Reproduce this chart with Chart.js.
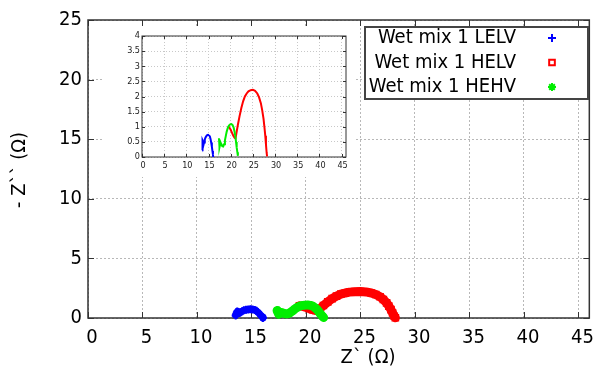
<!DOCTYPE html>
<html>
<head>
<meta charset="utf-8">
<script src="https://cdn.jsdelivr.net/npm/chart.js@4.4.0/dist/chart.umd.min.js"></script>
<style>
  body { margin: 0; background: #fff; }
  #wrap { position: relative; width: 598px; height: 372px; }
  #main { position: absolute; left: 0; top: 0; }
  #inset { position: absolute; left: 103px; top: 28px; background: #fff; }
</style>
</head>
<body>
<div id="wrap">
  <canvas id="main" width="598" height="372"></canvas>
  <canvas id="inset" width="252" height="149"></canvas>
</div>
<script>
// Nyquist data, Z' and -Z'' in ohms
var lelvRe = [13.55, 13.6, 13.65, 13.7, 13.8, 13.9, 14.0, 14.15, 14.3, 14.5, 14.7, 14.9, 15.1, 15.3, 15.45, 15.6, 15.75, 15.88, 16.0, 16.05];
var lelvIm = [0.22, 0.32, 0.45, 0.55, 0.5, 0.42, 0.48, 0.57, 0.64, 0.69, 0.72, 0.73, 0.72, 0.68, 0.6, 0.48, 0.34, 0.2, 0.08, 0.0];

var helvRe = [19.4, 19.7, 20.0, 20.3, 20.6, 20.9, 21.1, 21.3, 21.6, 22.0, 22.4, 22.8, 23.2, 23.6, 24.0, 24.5, 25.0, 25.5, 26.0, 26.4, 26.8, 27.1, 27.4, 27.6, 27.8, 27.95, 28.1, 28.2];
var helvIm = [1.02, 0.97, 0.9, 0.8, 0.7, 0.63, 0.62, 0.8, 1.05, 1.35, 1.62, 1.84, 2.0, 2.1, 2.17, 2.21, 2.22, 2.19, 2.1, 1.97, 1.78, 1.55, 1.27, 1.0, 0.7, 0.42, 0.15, 0.02];

var hehvRe = [17.35, 17.4, 17.45, 17.5, 17.6, 17.75, 17.9, 18.1, 18.3, 18.5, 18.7, 18.9, 19.1, 19.35, 19.6, 19.9, 20.15, 20.4, 20.65, 20.85, 21.05, 21.2, 21.35, 21.5, 21.62];
var hehvIm = [0.62, 0.52, 0.42, 0.32, 0.4, 0.47, 0.42, 0.36, 0.35, 0.42, 0.55, 0.7, 0.84, 0.96, 1.04, 1.08, 1.09, 1.06, 0.98, 0.85, 0.68, 0.5, 0.32, 0.16, 0.04];

var seriesNames = ['Wet mix 1 LELV', 'Wet mix 1 HELV', 'Wet mix 1 HEHV'];
var seriesColors = ['#0000ff', '#ff0000', '#00ee00'];
var seriesMarkers = ['cross', 'rect', 'star'];

var xTicks = [0, 5, 10, 15, 20, 25, 30, 35, 40, 45];
var yTicks = [0, 5, 10, 15, 20, 25];
var insetYTicks = [0, 0.5, 1, 1.5, 2, 2.5, 3, 3.5, 4];

var FONT = "'DejaVu Sans Condensed', 'Liberation Sans Narrow', 'DejaVu Sans', sans-serif";

function toPoints(re, im) {
  return re.map(function (v, i) { return { x: v, y: im[i] }; });
}
var allRe = [lelvRe, helvRe, hehvRe];
var allIm = [lelvIm, helvIm, hehvIm];

function setTicks(list) {
  return function (scale) { scale.ticks = list.map(function (v) { return { value: v }; }); };
}

// box round the plot plus short inward ticks on all four sides
function framePlugin(tickLen, color) {
  return {
    id: 'frame',
    beforeDatasetsDraw: function (chart) {
      var ctx = chart.ctx, a = chart.chartArea;
      var sx = chart.scales.x, sy = chart.scales.y;
      ctx.save();
      ctx.strokeStyle = color;
      ctx.lineWidth = 1;
      ctx.beginPath();
      sx.ticks.forEach(function (t) {
        var px = Math.round(sx.getPixelForValue(t.value)) + 0.5;
        ctx.moveTo(px, a.bottom); ctx.lineTo(px, a.bottom - tickLen);
        ctx.moveTo(px, a.top); ctx.lineTo(px, a.top + tickLen);
      });
      sy.ticks.forEach(function (t) {
        var py = Math.round(sy.getPixelForValue(t.value)) + 0.5;
        ctx.moveTo(a.left, py); ctx.lineTo(a.left + tickLen, py);
        ctx.moveTo(a.right, py); ctx.lineTo(a.right - tickLen, py);
      });
      ctx.stroke();
      ctx.lineWidth = chart.canvas.id === 'main' ? 1.5 : 1;
      ctx.strokeRect(a.left, a.top, a.right - a.left, a.bottom - a.top);
      ctx.restore();
    }
  };
}

var mainExtras = {
  id: 'mainExtras',
  afterDraw: function (chart) {
    var ctx = chart.ctx;
    ctx.save();
    ctx.fillStyle = '#000';
    ctx.font = '20px ' + FONT;
    ctx.textAlign = 'center';
    ctx.textBaseline = 'middle';
    ctx.fillText('Z` (\u03A9)', 368, 358);
    ctx.translate(20, 170);
    ctx.rotate(-Math.PI / 2);
    ctx.fillText('- Z`` (\u03A9)', 0, 0);
    ctx.restore();

    // legend box, labels right aligned, marker on the right
    ctx.save();
    ctx.fillStyle = '#fff';
    ctx.fillRect(365, 27, 223, 72);
    ctx.strokeStyle = '#444';
    ctx.lineWidth = 2;
    ctx.strokeRect(365, 27, 223, 72);
    var rows = [38, 62.5, 87];
    chart.data.datasets.forEach(function (ds, i) {
      ctx.fillStyle = '#000';
      ctx.font = '20px ' + FONT;
      ctx.textAlign = 'right';
      ctx.textBaseline = 'middle';
      ctx.fillText(ds.label, 516, rows[i]);
      ctx.strokeStyle = ds.borderColor;
      ctx.fillStyle = '#fff';
      Chart.helpers.drawPoint(ctx, { pointStyle: ds.pointStyle, radius: 4, rotation: 0, borderWidth: 1.5 }, 552, rows[i]);
    });
    ctx.restore();
  }
};

var mainSets = [0, 1, 2].map(function (i) {
  return {
    label: seriesNames[i],
    data: toPoints(allRe[i], allIm[i]),
    showLine: true,
    borderColor: seriesColors[i],
    backgroundColor: seriesColors[i],
    borderWidth: i === 0 ? 7 : 9,
    borderCapStyle: 'round',
    borderJoinStyle: 'round',
    pointStyle: seriesMarkers[i],
    pointRadius: 4,
    pointBorderWidth: 2,
    clip: 8,
    order: [2, 3, 1][i]
  };
});

new Chart(document.getElementById('main'), {
  type: 'scatter',
  data: { datasets: mainSets },
  options: {
    responsive: false,
    animation: false,
    layout: { padding: { top: 20, right: 4, left: 0, bottom: 0 } },
    plugins: { legend: { display: false }, tooltip: { enabled: false } },
    scales: {
      x: {
        type: 'linear', min: 0, max: 46,
        afterBuildTicks: setTicks(xTicks),
        afterFit: function (s) { s.height = 54; },
        grid: { color: '#b8b8b8', drawTicks: false },
        border: { display: false, dash: [2, 2] },
        ticks: { color: '#000', font: { family: FONT, size: 20 }, padding: 8, labelOffset: 4, maxRotation: 0,
                 callback: function (v) { return String(v); } }
      },
      y: {
        type: 'linear', min: 0, max: 25,
        afterBuildTicks: setTicks(yTicks),
        afterFit: function (s) { s.width = 88; },
        grid: { color: '#b8b8b8', drawTicks: false },
        border: { display: false, dash: [2, 2] },
        ticks: { color: '#000', font: { family: FONT, size: 20 }, padding: 6,
                 callback: function (v) { return String(v); } }
      }
    }
  },
  plugins: [framePlugin(6, '#333'), mainExtras]
});

var insetSets = [0, 1, 2].map(function (i) {
  return {
    label: seriesNames[i],
    data: toPoints(allRe[i], allIm[i]),
    showLine: true,
    borderColor: seriesColors[i],
    backgroundColor: seriesColors[i],
    borderWidth: 2,
    pointRadius: 0,
    order: [2, 3, 1][i]
  };
});

new Chart(document.getElementById('inset'), {
  type: 'scatter',
  data: { datasets: insetSets },
  options: {
    responsive: false,
    animation: false,
    layout: { padding: { top: 8, right: 9, left: 0, bottom: 0 } },
    plugins: { legend: { display: false }, tooltip: { enabled: false } },
    scales: {
      x: {
        type: 'linear', min: 0, max: 46,
        afterBuildTicks: setTicks(xTicks),
        afterFit: function (s) { s.height = 20; },
        grid: { color: '#c8c8c8', drawTicks: false },
        border: { display: false, dash: [1, 2] },
        ticks: { color: '#222', font: { family: FONT, size: 9 }, padding: 3, labelOffset: 1, maxRotation: 0,
                 callback: function (v) { return String(v); } }
      },
      y: {
        type: 'linear', min: 0, max: 4,
        afterBuildTicks: setTicks(insetYTicks),
        afterFit: function (s) { s.width = 39; },
        grid: { color: '#c8c8c8', drawTicks: false },
        border: { display: false, dash: [1, 2] },
        ticks: { color: '#222', font: { family: FONT, size: 9 }, padding: 2,
                 callback: function (v) { return String(v); } }
      }
    }
  },
  plugins: [framePlugin(3, '#333')]
});
</script>
</body>
</html>
